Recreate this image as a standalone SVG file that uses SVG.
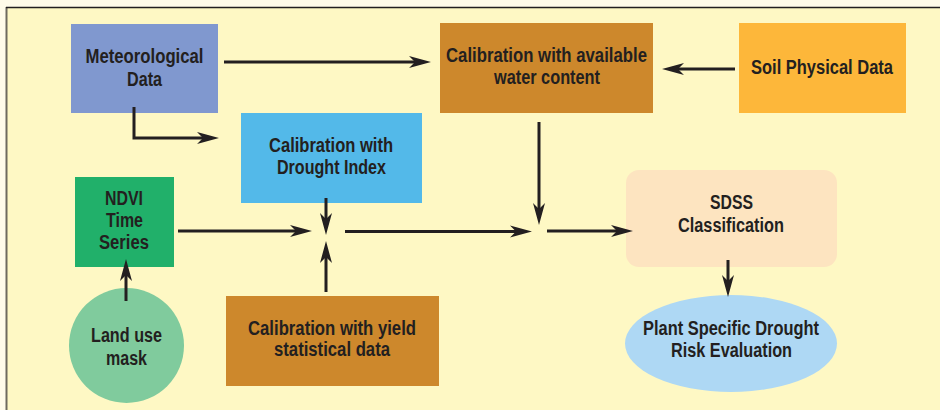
<svg xmlns="http://www.w3.org/2000/svg" width="940" height="410" viewBox="0 0 940 410">
<style>
text{font-family:"Liberation Sans",Arial,sans-serif;font-weight:bold;font-size:20px;fill:#231f20;text-anchor:middle}
.c path{fill:none;stroke:#231f20;stroke-width:3}
</style>
<defs>
<marker id="ah" markerUnits="userSpaceOnUse" markerWidth="22" markerHeight="12" refX="6" refY="6" orient="auto" overflow="visible">
<path d="M0,0 L22,6 L0,12 L6,6 Z" fill="#231f20"/>
</marker>
</defs>
<rect width="940" height="410" fill="#fffbe9"/>
<rect x="7" y="7" width="933" height="403" fill="#fef8c4"/>
<line x1="6.5" y1="7" x2="6.5" y2="410" stroke="#6e6a5e" stroke-width="2"/>
<line x1="6" y1="7.5" x2="940" y2="7.5" stroke="#231f20" stroke-width="1.5"/>

<g id="meteo"><rect x="71" y="24" width="147" height="89" fill="#8098cf"/><text x="144.5" y="63" textLength="118" lengthAdjust="spacingAndGlyphs">Meteorological</text><text x="144.5" y="86" textLength="35" lengthAdjust="spacingAndGlyphs">Data</text></g>
<g id="water"><rect x="440" y="23" width="213" height="90" fill="#cd882c"/><text x="546.5" y="62" textLength="201" lengthAdjust="spacingAndGlyphs">Calibration with available</text><text x="547" y="84" textLength="106" lengthAdjust="spacingAndGlyphs">water content</text></g>
<g id="soil"><rect x="739" y="23" width="167" height="90" fill="#fdb73a"/><text x="822" y="74" textLength="142" lengthAdjust="spacingAndGlyphs">Soil Physical Data</text></g>
<g id="drought"><rect x="241" y="113" width="181" height="90" fill="#53b9e9"/><text x="331" y="152" textLength="124" lengthAdjust="spacingAndGlyphs">Calibration with</text><text x="331.5" y="174" textLength="109" lengthAdjust="spacingAndGlyphs">Drought Index</text></g>
<g id="ndvi"><rect x="75" y="177" width="99" height="90" fill="#21b06a"/><text x="124" y="205" textLength="38" lengthAdjust="spacingAndGlyphs">NDVI</text><text x="124.5" y="227" textLength="37" lengthAdjust="spacingAndGlyphs">Time</text><text x="124" y="249" textLength="50" lengthAdjust="spacingAndGlyphs">Series</text></g>
<g id="landuse"><circle cx="126.5" cy="345.5" r="57.5" fill="#80cb9d"/><text x="126.5" y="342" textLength="71" lengthAdjust="spacingAndGlyphs">Land use</text><text x="126.5" y="365" textLength="41" lengthAdjust="spacingAndGlyphs">mask</text></g>
<g id="yield"><rect x="226" y="296" width="213" height="90" fill="#cd882c"/><text x="332" y="335" textLength="168" lengthAdjust="spacingAndGlyphs">Calibration with yield</text><text x="332" y="356" textLength="116" lengthAdjust="spacingAndGlyphs">statistical data</text></g>
<g id="sdss"><rect x="626" y="170" width="211" height="97" rx="13" fill="#fde4c0"/><text x="731.5" y="209" textLength="43" lengthAdjust="spacingAndGlyphs">SDSS</text><text x="731" y="232" textLength="106" lengthAdjust="spacingAndGlyphs">Classification</text></g>
<g id="risk"><ellipse cx="731" cy="343.5" rx="106" ry="48.5" fill="#aed8f4"/><text x="731" y="335" textLength="176" lengthAdjust="spacingAndGlyphs">Plant Specific Drought</text><text x="731.5" y="357" textLength="121" lengthAdjust="spacingAndGlyphs">Risk Evaluation</text></g>

<g class="c" id="connectors">
<path d="M224,62 H415" marker-end="url(#ah)"/>
<path d="M735,69 H678" marker-end="url(#ah)"/>
<path d="M134,107 V138 H203" marker-end="url(#ah)"/>
<path d="M326,198 V219" marker-end="url(#ah)"/>
<path d="M178,231 H296" marker-end="url(#ah)"/>
<path d="M326,292 V257" marker-end="url(#ah)"/>
<path d="M345,231.5 H516" marker-end="url(#ah)"/>
<path d="M539,122 V209" marker-end="url(#ah)"/>
<path d="M547,231 H617" marker-end="url(#ah)"/>
<path d="M728,260 V281" marker-end="url(#ah)"/>
<path d="M126,301 V275" marker-end="url(#ah)"/>
</g>
</svg>
